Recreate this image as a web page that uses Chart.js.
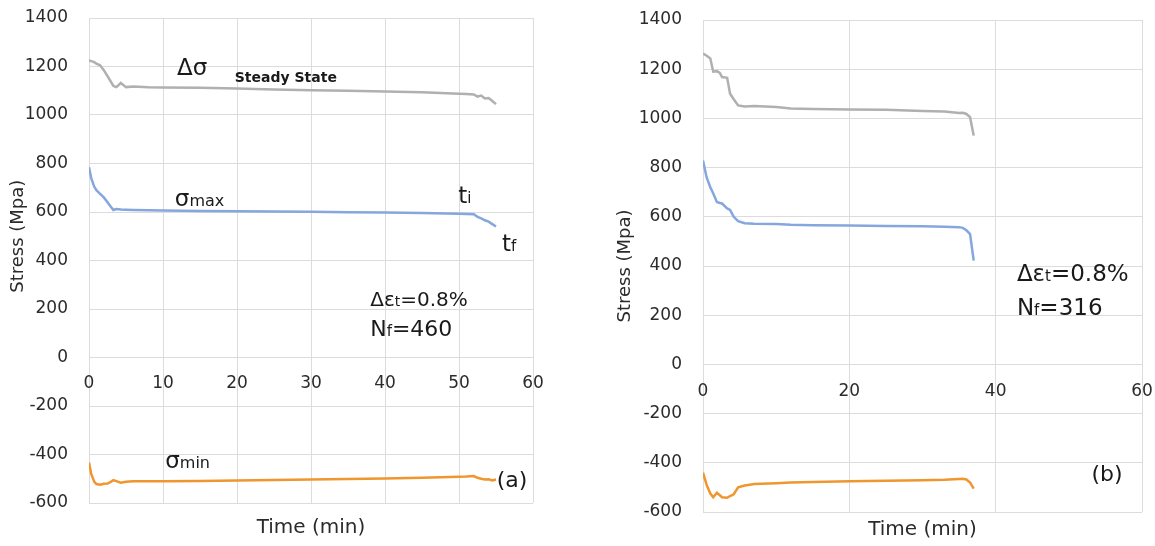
<!DOCTYPE html>
<html>
<head>
<meta charset="utf-8">
<script src="https://cdn.jsdelivr.net/npm/chart.js@4.4.1/dist/chart.umd.min.js"></script>
<style>
  html, body { margin: 0; padding: 0; background: #fff; }
  #wrap { position: relative; width: 1155px; height: 546px; overflow: hidden; }
  canvas { position: absolute; top: 0; }
  #chartA { left: 0; }
  #chartB { left: 590px; }
</style>
</head>
<body>
<div id="wrap">
  <canvas id="chartA" width="560" height="546"></canvas>
  <canvas id="chartB" width="565" height="546"></canvas>
</div>
<script>
// (a) Δεt=0.8%, Nf=460
const timeA  = [0, 0.3, 0.7, 1, 1.5, 2, 2.5, 3, 3.3, 3.7, 4.3, 5, 6, 8, 10, 15, 20, 25, 30, 35, 40, 45, 50, 51, 52, 52.5, 53, 53.5, 54, 54.5, 55];
const deltaA = [1225, 1222, 1218, 1212, 1205, 1185, 1160, 1135, 1120, 1115, 1132, 1115, 1118, 1114, 1113, 1112, 1109, 1105, 1102, 1100, 1097, 1094, 1088, 1087, 1085, 1076, 1080, 1068, 1070, 1058, 1045];
const maxA   = [785, 740, 705, 690, 675, 660, 640, 620, 608, 612, 610, 609, 608, 607, 606, 604, 603, 602, 601, 599, 598, 596, 593, 592, 591, 580, 574, 566, 560, 550, 540];
const minA   = [-433, -480, -512, -522, -525, -521, -520, -512, -506, -510, -516, -512, -510, -510, -510, -509, -507, -505, -503, -501, -499, -496, -492, -491, -489, -496, -500, -503, -502, -507, -503];

// (b) Δεt=0.8%, Nf=316
const timeB  = [0, 0.5, 1, 1.4, 1.9, 2.3, 2.6, 3.3, 3.7, 4.2, 4.8, 5.7, 7, 10, 12, 15, 20, 25, 30, 33, 35, 35.5, 36, 36.5, 37];
const deltaB = [1264, 1255, 1244, 1190, 1192, 1185, 1168, 1165, 1100, 1078, 1053, 1048, 1050, 1046, 1040, 1038, 1036, 1035, 1030, 1028, 1022, 1023, 1018, 1005, 930];
const maxB   = [829, 760, 720, 695, 660, 656, 654, 634, 628, 600, 582, 574, 572, 571, 568, 566, 565, 563, 562, 560, 558, 555, 545, 530, 422];
const minB   = [-440, -490, -525, -540, -522, -532, -540, -542, -535, -528, -500, -492, -486, -483, -480, -478, -475, -473, -471, -469, -466, -465, -468, -480, -505];

const yTicks = [-600, 1400, 200];   // min, max, step
const FONT = '"DejaVu Sans", sans-serif';
const TEXT = '#2b2b2b';

// text notes: [time, stress] anchor (left, baseline) + parts [text, size, weight]
const notesA = [
  { x: 11.9, y: 1167, parts: [['Δσ', 23]] },
  { x: 19.7, y: 1138, parts: [['Steady State', 14, 'bold']] },
  { x: 11.6, y: 625,  parts: [['σ', 23], ['max', 16]] },
  { x: 49.9, y: 639,  parts: [['t', 23], ['i', 15]] },
  { x: 55.8, y: 441,  parts: [['t', 23], ['f', 15]] },
  { x: 38.0, y: 214,  parts: [['Δε', 20], ['t', 14], ['=0.8%', 20]] },
  { x: 38.0, y: 87,   parts: [['N', 22], ['f', 15], ['=460', 22]] },
  { x: 10.3, y: -454, parts: [['σ', 23], ['min', 16]] },
  { x: 55.1, y: -532, parts: [['(a)', 22]] }
];
const notesB = [
  { x: 42.9, y: 337,  parts: [['Δε', 23], ['t', 15], ['=0.8%', 23]] },
  { x: 42.9, y: 199,  parts: [['N', 23], ['f', 15], ['=316', 23]] },
  { x: 53.1, y: -472, parts: [['(b)', 22]] }
];

function makeNotes(items, yTitle) {
  return {
    id: 'notes',
    afterDatasetsDraw(chart) {
      const { ctx, scales: { x, y } } = chart;
      ctx.save();
      ctx.fillStyle = '#1a1a1a';
      ctx.textAlign = 'left';
      ctx.textBaseline = 'alphabetic';
      items.forEach(function (item) {
        let px = x.getPixelForValue(item.x);
        const py = y.getPixelForValue(item.y);
        item.parts.forEach(function (p) {
          ctx.font = (p[2] || 'normal') + ' ' + p[1] + 'px ' + FONT;
          ctx.fillText(p[0], px, py);
          px += ctx.measureText(p[0]).width;
        });
      });
      // axis title, rotated, centred on a stress value
      ctx.translate(yTitle.left, y.getPixelForValue(yTitle.at));
      ctx.rotate(-Math.PI / 2);
      ctx.textAlign = 'center';
      ctx.textBaseline = 'middle';
      ctx.fillStyle = TEXT;
      ctx.font = '18px ' + FONT;
      ctx.fillText('Stress (Mpa)', 0, 0);
      ctx.restore();
    }
  };
}

function series(time, vals, color) {
  return {
    data: time.map((t, i) => ({ x: t, y: vals[i] })),
    borderColor: color,
    borderWidth: 2.5,
    pointRadius: 0,
    tension: 0,
    fill: false
  };
}

// tick padding should not push the plot area around
function noEdgePadding(scale) {
  scale.paddingTop = 0;
  scale.paddingBottom = 0;
  scale.paddingLeft = 0;
  scale.paddingRight = 0;
}

function makeChart(id, time, delta, smax, smin, cfg) {
  new Chart(document.getElementById(id), {
    type: 'line',
    data: {
      datasets: [
        series(time, delta, '#B0B0B0'),
        series(time, smax, '#86A6DE'),
        series(time, smin, '#F0962F')
      ]
    },
    options: {
      responsive: false,
      animation: false,
      layout: { padding: cfg.pad },
      plugins: {
        legend: { display: false },
        tooltip: { enabled: false },
        title: {
          display: true,
          position: 'bottom',
          fullSize: false,
          text: 'Time (min)',
          color: TEXT,
          font: { family: FONT, size: 20, weight: 'normal' },
          padding: cfg.titlePad
        }
      },
      scales: {
        x: {
          type: 'linear',
          position: { y: 0 },
          min: 0,
          max: 60,
          ticks: { stepSize: cfg.xStep, padding: cfg.xTickPad, color: TEXT, font: { family: FONT, size: 17 }, maxRotation: 0, callback: v => String(v) },
          grid: { color: '#dcdcdc', lineWidth: 1, drawTicks: false },
          border: { display: false },
          afterFit: noEdgePadding
        },
        y: {
          min: yTicks[0],
          max: yTicks[1],
          ticks: { stepSize: yTicks[2], padding: 21, color: TEXT, font: { family: FONT, size: 17 }, callback: v => String(v) },
          grid: { color: '#dcdcdc', lineWidth: 1, drawTicks: false },
          border: { display: false },
          afterFit: function (scale) {
            scale.width = cfg.yWidth;
            noEdgePadding(scale);
          }
        }
      }
    },
    plugins: [makeNotes(cfg.notes, cfg.yTitle)]
  });
}

makeChart('chartA', timeA, deltaA, maxA, minA, {
  pad: { left: 0, top: 18, right: 27, bottom: 0 },
  titlePad: { top: 13, bottom: 6 },
  xStep: 10, xTickPad: 16, yWidth: 89, yTitle: { left: 18, at: 500 }, notes: notesA
});
makeChart('chartB', timeB, deltaB, maxB, minB, {
  pad: { left: 0, top: 20, right: 13, bottom: 0 },
  titlePad: { top: 6, bottom: 4 },
  xStep: 20, xTickPad: 17, yWidth: 113, yTitle: { left: 35, at: 400 }, notes: notesB
});
</script>
</body>
</html>
